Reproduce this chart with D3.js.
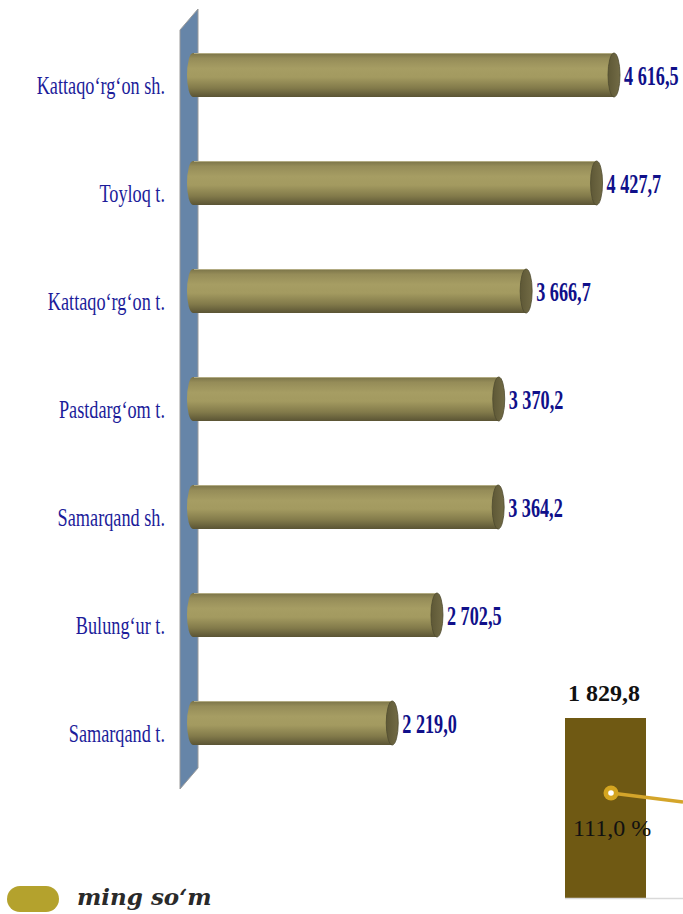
<!DOCTYPE html>
<html>
<head>
<meta charset="utf-8">
<script src="https://cdn.jsdelivr.net/npm/d3@7"></script>
<style>
html,body{margin:0;padding:0;background:#fff;}
svg{display:block;}
.serif{font-family:"Liberation Serif";}
</style>
</head>
<body>
<svg id="chart" width="683" height="914"></svg>
<script>
const categories = ["Kattaqo‘rg‘on sh.", "Toyloq t.", "Kattaqo‘rg‘on t.", "Pastdarg‘om t.", "Samarqand sh.", "Bulung‘ur t.", "Samarqand t."];
const values = [4616.5, 4427.7, 3666.7, 3370.2, 3364.2, 2702.5, 2219.0];
const valueLabels = ["4 616,5", "4 427,7", "3 666,7", "3 370,2", "3 364,2", "2 702,5", "2 219,0"];
const sideValue = [1829.8];
const sideValueLabel = ["1 829,8"];
const sidePercentLabel = ["111,0 %"];
const legendLabel = ["ming so‘m"];

const svg = d3.select("#chart");
const defs = svg.append("defs");

const grad = defs.append("linearGradient").attr("id","cyl").attr("x1",0).attr("y1",0).attr("x2",0).attr("y2",1);
[[0,"#7a7348"],[0.12,"#958c58"],[0.35,"#a69d63"],[0.55,"#a39a60"],[0.8,"#827a4a"],[1,"#5a5434"]]
  .forEach(([o,c])=>grad.append("stop").attr("offset",o).attr("stop-color",c));
const capGrad = defs.append("linearGradient").attr("id","cap").attr("x1",0).attr("y1",0).attr("x2",1).attr("y2",0);
[[0,"#5e5836"],[1,"#726b45"]].forEach(([o,c])=>capGrad.append("stop").attr("offset",o).attr("stop-color",c));

const x = d3.scaleLinear().domain([0, 4616.5]).range([193, 620]);
const y = d3.scalePoint().domain(categories).range([75, 723]);
const barH = 44, rx = 6;

// wall
svg.append("path")
  .attr("d","M180,30 L198,9 L198,768 L180,789 Z")
  .attr("fill","#6685a8").attr("stroke","#9a9a9a").attr("stroke-width",1);

const g = svg.append("g");
categories.forEach((c,i)=>{
  const cy = y(c), x0 = x(0), x1 = x(values[i]);
  const top = cy - barH/2, bot = cy + barH/2;
  const path = `M${x1-rx},${top} L${x0},${top} A${rx},${barH/2} 0 0 0 ${x0},${bot} L${x1-rx},${bot} Z`;
  g.append("path").attr("d",path).attr("fill","url(#cyl)");
  g.append("path").attr("d",`M${x0+1},${top+0.5} L${x1-rx},${top+0.5}`).attr("stroke","#c9c39c").attr("stroke-width",1).attr("opacity",0.7);
  g.append("ellipse").attr("cx",x1-rx).attr("cy",cy).attr("rx",rx).attr("ry",barH/2)
    .attr("fill","url(#cap)").attr("stroke","#4e4a2e").attr("stroke-width",0.8);
  g.append("text").attr("class","serif")
    .attr("transform",`translate(165,${cy+19}) scale(0.73,1)`)
    .attr("text-anchor","end")
    .attr("font-size",25).attr("fill","#1c1c9a")
    .text(c);
  g.append("text").attr("class","serif")
    .attr("transform",`translate(${x1+4},${cy+10}) scale(0.65,1)`)
    .attr("font-weight","bold").attr("font-size",28).attr("fill","#10108a")
    .text(valueLabels[i]);
});

// bottom-right partial chart
const ys = d3.scaleLinear().domain([0, 1829.8]).range([898, 718]);
svg.append("rect").attr("x",565).attr("y",ys(sideValue[0])).attr("width",81).attr("height",ys(0)-ys(sideValue[0]))
  .attr("fill","#6f5913");
svg.append("line").attr("x1",565).attr("x2",683).attr("y1",898.5).attr("y2",898.5).attr("stroke","#d9d9d9").attr("stroke-width",1.5);
svg.append("text").attr("class","serif").attr("x",568).attr("y",701)
  .attr("font-weight","bold").attr("font-size",24).attr("fill","#111")
  .text(sideValueLabel[0]);
svg.append("line").attr("x1",611).attr("y1",793).attr("x2",683).attr("y2",802).attr("stroke","#d4a52a").attr("stroke-width",3.5);
svg.append("circle").attr("cx",611).attr("cy",793).attr("r",7.5).attr("fill","#d4a520");
svg.append("circle").attr("cx",611).attr("cy",793).attr("r",2.8).attr("fill","#fff");
svg.append("text").attr("class","serif").attr("x",573).attr("y",836)
  .attr("font-size",24).attr("fill","#111")
  .text(sidePercentLabel[0]);

// legend
svg.append("rect").attr("x",7).attr("y",886).attr("width",52).attr("height",26).attr("rx",13).attr("ry",13).attr("fill","#b4a22d");
svg.append("text").attr("x",77).attr("y",905)
  .style("font-family","'DejaVu Serif'").attr("font-style","italic").attr("font-weight","bold").attr("font-size",23).attr("fill","#2a2a2a")
  .text(legendLabel[0]);
</script>
</body>
</html>
